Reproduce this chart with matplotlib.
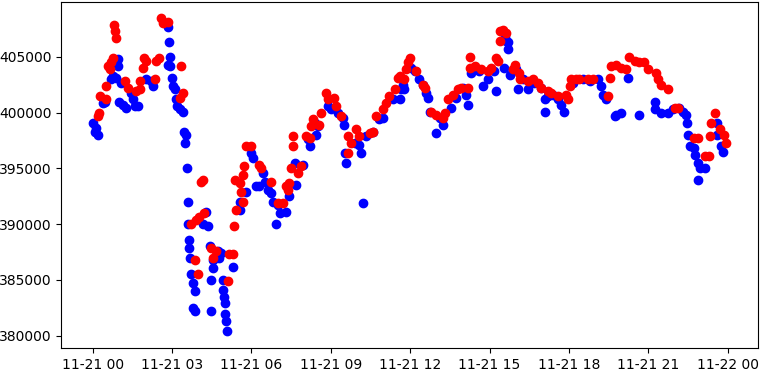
import matplotlib
matplotlib.use('Agg')
import matplotlib.pyplot as plt
import matplotlib.dates as mdates
import pandas as pd

# minutes after 11-21 00:00, price
blue_min = [0, 4, 8, 11, 23, 27, 42, 45, 53, 57, 58, 59, 64, 68, 76, 87, 91, 95, 102,
            121, 133, 136, 167, 170, 171, 174, 175, 176, 179, 182, 187, 189, 192, 197, 204,
            208, 209, 212, 214, 216, 217, 218, 219, 220, 223, 227, 228, 231, 232,
            250, 257, 261, 265, 268, 269, 272, 273, 284, 287, 291, 295, 296, 297, 299, 300,
            303, 304, 318, 333, 334, 348, 359, 363, 371, 378, 386, 390, 397, 405, 408, 416,
            420, 424, 439, 446, 458, 462, 476, 488, 492, 503, 507, 511, 533, 541, 556, 567,
            571, 572, 575, 594, 605, 609, 613, 620, 635, 650, 658, 681, 696, 700, 703, 707,
            722, 730, 741, 749, 756, 760, 764, 779, 787, 794, 813, 825, 840, 847, 851, 859,
            877, 885, 896, 911, 915, 934, 935, 938, 942, 943, 946, 961, 965, 976, 987, 1002,
            1017, 1025, 1026, 1033, 1044, 1055, 1063, 1070, 1089, 1112, 1127, 1146, 1154,
            1157, 1165, 1184, 1188, 1199, 1214, 1240, 1275, 1276, 1290, 1305, 1316, 1331,
            1339, 1346, 1347, 1350, 1354, 1365, 1366, 1373, 1374, 1377, 1388, 1415, 1416,
            1426, 1430]
blue_price = [399100, 398300, 398600, 398000, 400900, 401000, 403000, 403300, 403100, 404800,
              404200, 401000, 402700, 400700, 400400, 401800, 401200, 400600, 400600,
              403000, 402800, 402400, 408000, 407700, 404300, 406300, 405000, 404200, 403100,
              402400, 402100, 401200, 400600, 400300, 400100,
              398300, 397300, 398000, 395000, 392000, 390000, 388600, 387900, 387000, 385500,
              384700, 382500, 384000, 382200,
              390000, 391100, 389800, 388000, 382200, 385000, 386800, 386100, 387600, 387000,
              387400, 385000, 384100, 383500, 382900, 381900,
              381300, 380450, 386200, 392000, 391300, 392900, 396400, 395900, 393400, 393400,
              394600, 393800, 393100, 392800, 392000, 390000,
              391700, 391000, 391100, 392500, 395500, 393500, 395300, 397600, 397000, 399100,
              398000, 398800, 400600, 400300, 400000, 399500,
              398900, 396400, 395500, 397300, 397100, 396400, 391900, 397900, 398300, 399400,
              399500, 401200, 401200, 402100, 402500, 402100,
              404000, 403700, 403000, 402500, 401800, 401300, 400100, 398200, 399500, 398900,
              400400, 401300, 402200, 401600, 400700, 403600,
              403700, 402400, 403000, 403700, 401900, 404000, 406800, 406400, 406300, 405700,
              403400, 403900, 402100, 403000, 402100, 402700,
              402200, 401200, 400100, 401500, 401600, 401200, 400700, 400100, 402700, 403000,
              402800, 403000, 402400,
              401600, 401200, 399700, 399800, 400000, 403100, 399800, 401000, 400300, 400000,
              400000, 400300, 400400,
              400100, 399800, 399100, 398000, 397000, 396800, 396200, 395500, 394000, 395000,
              395000, 399100, 398000,
              397000, 396500]

red_min = [11, 15, 16, 30, 31, 34, 38, 42, 45, 49, 50, 53, 72, 79, 98, 106, 107, 113, 117,
           121, 140, 144, 151, 155, 159, 170, 197, 201, 204,
           223, 231, 235, 238, 242, 246, 250, 253, 269, 272, 280, 306, 310, 318, 321, 322,
           325, 333, 337, 340, 341, 344, 348, 359, 378, 382, 405, 420, 431, 439, 442, 446,
           450, 454, 455, 465, 473, 484, 492, 496, 499, 514, 518, 530, 533, 548, 552, 564,
           579, 580, 586, 598, 605, 628, 635, 643, 658, 666, 673, 685, 692, 696, 707, 711,
           715, 719, 734, 749, 753, 768, 779, 794, 798, 806, 817, 828, 836, 851, 855, 856,
           867, 881, 896, 904, 915, 919, 923, 924, 930, 938, 953, 957, 968, 969, 987, 998,
           1010, 1017, 1032, 1040, 1055, 1074, 1078, 1082, 1086, 1097, 1104, 1123, 1134,
           1169, 1173, 1176, 1186, 1199, 1210, 1217, 1229, 1240, 1251, 1259, 1278, 1282,
           1290, 1305, 1320, 1328, 1365, 1373, 1388, 1399, 1400, 1403, 1411, 1422, 1433, 1437]
red_price = [399700, 400000, 401500, 401200, 402400, 404200, 403900, 404500, 404900, 407900,
             407300, 406700, 402800, 402200, 401900, 402100, 402800, 404000, 404900,
             404600, 403000, 404600, 404900, 408500, 408000, 408100, 401300, 404200, 401800,
             390000, 386800, 390400, 385500, 390600, 393800, 394000, 391000, 387900, 387000,
             387600, 384900, 387300, 387300, 389800, 394000,
             391300, 393700, 392900, 392000, 394400, 395200, 397000, 397000, 395300, 395000,
             393800, 391900, 391900, 393400, 393100, 393700,
             395000, 397900, 397000, 394600, 395200, 397900, 397700, 398800, 399400, 398900,
             400000, 401800, 401200, 401300, 400600, 399700,
             397900, 396400, 397300, 398500, 397900, 398200, 398300, 399700, 400300, 400900,
             401500, 402100, 403100, 403300, 403000, 403900,
             404500, 404900, 403700, 402500, 402200, 400100, 399800, 399500, 400000, 401200,
             401600, 402100, 402200, 402200, 405000, 404000,
             404200, 403900, 403700, 404000, 404900, 404600, 407300, 406400, 407400, 407100,
             403900, 404300, 403600, 403000, 402800, 403000,
             402700, 402200, 401900, 401800, 401500, 401600, 401200, 402400, 403000, 403000,
             403000, 403000, 403000,
             401500, 403100, 404200, 404300, 404000, 403900, 405000, 404600, 404500, 404500,
             403900, 403600, 403000,
             402500, 402100, 400400, 400400, 397700, 397700, 396100, 396100, 397900, 399100,
             400000, 398500, 398000, 397300]

start = pd.Timestamp('2023-11-21 00:00')
blue_t = start + pd.to_timedelta(blue_min, unit='m')
red_t = start + pd.to_timedelta(red_min, unit='m')

fig = plt.figure(figsize=(7.64, 3.79), dpi=100)
ax = fig.add_subplot(111)
ax.scatter(blue_t, blue_price, color='blue')
ax.scatter(red_t, red_price, color='red')

ax.set_ylim(378900, 409900)
ax.xaxis.set_major_locator(mdates.HourLocator(byhour=range(0, 24, 3)))
ax.xaxis.set_major_formatter(mdates.DateFormatter('%m-%d %H'))

plt.subplots_adjust(left=0.08, right=0.992, top=0.994, bottom=0.082)
plt.savefig('out.png', dpi=100)
